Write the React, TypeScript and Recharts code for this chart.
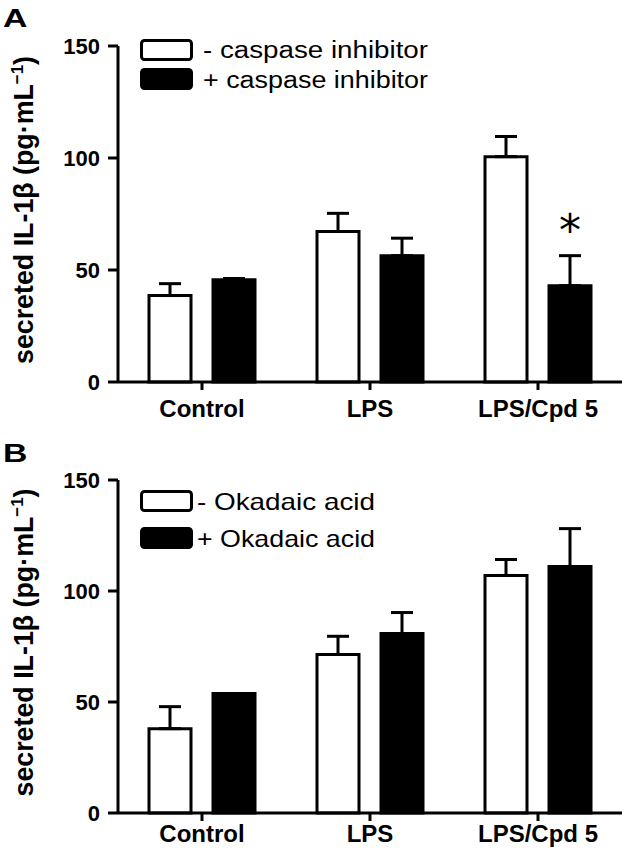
import React from "react";
import { BarChart, Bar, XAxis, YAxis, ErrorBar, LabelList, Legend } from "recharts";

// group labels shared by both panels
const categories = ["Control", "LPS", "LPS/Cpd 5"];
const yTicks = [0, 50, 100, 150];

// panel A: caspase inhibitor
const caspaseMinus = [38.6, 67.2, 100.6];
const caspaseMinusErr = [5.3, 8.1, 9];
const caspasePlus = [45.7, 56.4, 43];
const caspasePlusErr = [0.5, 7.8, 13.4];
const caspaseSig = ["", "", "*"];
const caspaseLabels = ["- caspase inhibitor", "+ caspase inhibitor"];

// panel B: okadaic acid
const okadaicMinus = [38, 71.4, 107];
const okadaicMinusErr = [9.9, 8.2, 7.2];
const okadaicPlus = [53.8, 80.8, 111];
const okadaicPlusErr = [0, 9.5, 17.1];
const okadaicSig = ["", "", ""];
const okadaicLabels = ["- Okadaic acid", "+ Okadaic acid"];

const FONT = "Arial, 'Liberation Sans', sans-serif";

function buildRows(minus: number[], minusErr: number[], plus: number[], plusErr: number[], sig: string[]) {
  return categories.map((name, i) => ({
    name,
    minus: minus[i],
    minusErr: [0, minusErr[i]],
    plus: plus[i],
    plusErr: [0, plusErr[i]],
    sig: sig[i],
  }));
}

const YLabel = (props: any) => {
  const vb = props.viewBox || {};
  const cy = vb.y + vb.height / 2 - 4;
  const cx = 33;
  return (
    <text
      x={cx}
      y={cy}
      transform={`rotate(-90, ${cx}, ${cy})`}
      textAnchor="middle"
      fontFamily={FONT}
      fontWeight="bold"
      fontSize={27}
      fill="#000"
      textLength={308}
      lengthAdjust="spacingAndGlyphs"
    >
      secreted IL-1β (pg·mL
      <tspan dy={-10} fontSize={17}>−1</tspan>
      <tspan dy={10}>)</tspan>
    </text>
  );
};

const Star = (props: any) => {
  const { x, y, width, value } = props;
  if (!value) return null;
  return (
    <text
      x={x + width / 2}
      y={y - 40}
      textAnchor="middle"
      fontFamily="'DejaVu Sans'"
      fontSize={44}
      fill="#000"
    >
      {value}
    </text>
  );
};

interface PanelProps {
  letter: string;
  rows: any[];
  labels: string[];
  top: number;
  height: number;
  marginTop: number;
  xAxisHeight: number;
  tickGap: number;
  legendRows: number[];
  legendBox: number[];
  legendFont: number;
  legendTextX: number;
  legendTextLen: number;
}

function Panel(p: PanelProps) {
  const fills = ["#ffffff", "#000000"];
  const renderLegend = () => (
    <svg width={627} height={140} style={{ display: "block" }}>
      {p.labels.map((lab, i) => (
        <g key={lab}>
          <rect
            x={141.5}
            y={p.legendBox[i]}
            width={50}
            height={19}
            rx={3}
            fill={fills[i]}
            stroke="#000"
            strokeWidth={3}
          />
          <text
            x={p.legendTextX}
            y={p.legendRows[i]}
            fontFamily={FONT}
            fontSize={p.legendFont}
            fill="#000"
            textLength={p.legendTextLen}
            lengthAdjust="spacingAndGlyphs"
          >
            {lab}
          </text>
        </g>
      ))}
    </svg>
  );

  return (
    <div style={{ position: "absolute", left: 0, top: p.top, width: 627, height: p.height }}>
      <div
        style={{
          position: "absolute",
          left: 3,
          top: p.letter === "A" ? 5 : 10,
          fontFamily: FONT,
          fontWeight: "bold",
          fontSize: 26,
          transform: "scaleX(1.3)",
          transformOrigin: "left top",
          lineHeight: 1,
        }}
      >
        {p.letter}
      </div>
      <BarChart
        width={627}
        height={p.height}
        data={p.rows}
        margin={{ top: p.marginTop, right: 5, left: 0, bottom: 0 }}
        barSize={42}
        barGap={22}
      >
        <XAxis
          dataKey="name"
          height={p.xAxisHeight}
          tickSize={8}
          tickMargin={p.tickGap}
          axisLine={{ stroke: "#000", strokeWidth: 3 }}
          tickLine={{ stroke: "#000", strokeWidth: 3 }}
          tick={{ fill: "#000", fontSize: 24, fontWeight: "bold", fontFamily: FONT }}
        />
        <YAxis
          domain={[0, 150]}
          ticks={yTicks}
          width={118}
          tickSize={10}
          tickMargin={8}
          axisLine={{ stroke: "#000", strokeWidth: 3 }}
          tickLine={{ stroke: "#000", strokeWidth: 3 }}
          tick={{ fill: "#000", fontSize: 22, fontWeight: "bold", fontFamily: FONT }}
          label={{ content: YLabel }}
        />
        <Legend
          layout="vertical"
          align="center"
          verticalAlign="middle"
          wrapperStyle={{ position: "absolute", left: 0, top: 0, width: 627 }}
          content={renderLegend}
        />
        <Bar dataKey="minus" name={p.labels[0]} fill="#ffffff" stroke="#000" strokeWidth={3} isAnimationActive={false}>
          <ErrorBar dataKey="minusErr" direction="y" width={11} stroke="#000" strokeWidth={3} isAnimationActive={false} />
        </Bar>
        <Bar dataKey="plus" name={p.labels[1]} fill="#000000" stroke="#000" strokeWidth={3} isAnimationActive={false}>
          <ErrorBar dataKey="plusErr" direction="y" width={11} stroke="#000" strokeWidth={3} isAnimationActive={false} />
          <LabelList dataKey="sig" content={Star} />
        </Bar>
      </BarChart>
    </div>
  );
}

export default function App() {
  const rowsA = buildRows(caspaseMinus, caspaseMinusErr, caspasePlus, caspasePlusErr, caspaseSig);
  const rowsB = buildRows(okadaicMinus, okadaicMinusErr, okadaicPlus, okadaicPlusErr, okadaicSig);
  return (
    <div style={{ position: "absolute", left: 0, top: 0, width: 627, height: 856, background: "#fff", overflow: "hidden" }}>
      <Panel
        letter="A"
        rows={rowsA}
        labels={caspaseLabels}
        top={0}
        height={430}
        marginTop={46}
        xAxisHeight={48}
        tickGap={10}
        legendRows={[58, 88]}
        legendBox={[40.5, 69.5]}
        legendFont={23}
        legendTextX={203}
        legendTextLen={225}
      />
      <Panel
        letter="B"
        rows={rowsB}
        labels={okadaicLabels}
        top={430}
        height={426}
        marginTop={50}
        xAxisHeight={43}
        tickGap={4}
        legendRows={[80, 117]}
        legendBox={[61.5, 98.5]}
        legendFont={24}
        legendTextX={197}
        legendTextLen={178}
      />
    </div>
  );
}
